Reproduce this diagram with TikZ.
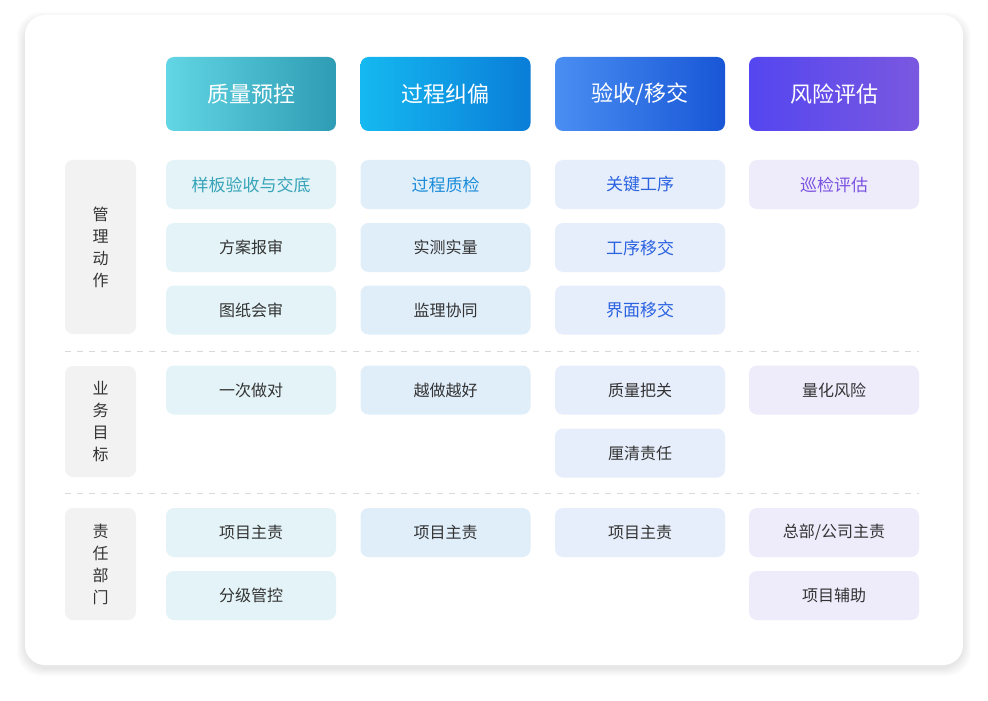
\documentclass[tikz,border=0pt]{standalone}
\usepackage{fontspec}
\setmainfont{Noto Sans CJK SC}
\usetikzlibrary{positioning}
\definecolor{hdA1}{HTML}{62D6E4}\definecolor{hdA2}{HTML}{2E9CB4}
\definecolor{hdB1}{HTML}{15B9F0}\definecolor{hdB2}{HTML}{0A7DD8}
\definecolor{hdC1}{HTML}{4A8EF2}\definecolor{hdC2}{HTML}{1856D6}
\definecolor{hdD1}{HTML}{5446F0}\definecolor{hdD2}{HTML}{7A58E0}
\definecolor{bgA}{HTML}{E3F3F7}\definecolor{bgB}{HTML}{E0EEFA}
\definecolor{bgC}{HTML}{E6EDFB}\definecolor{bgD}{HTML}{EEEBFB}
\definecolor{txA}{HTML}{36A3B8}\definecolor{txB}{HTML}{1A8CD8}
\definecolor{txC}{HTML}{2A62E0}\definecolor{txD}{HTML}{7A52E0}
\definecolor{txN}{HTML}{333333}\definecolor{lblbg}{HTML}{F2F2F2}
\tikzset{
  head/.style={rounded corners=4pt, minimum width=85pt, minimum height=37pt,
    text=white, font=\fontsize{11}{13}\selectfont, inner sep=0pt},
  cell/.style={rounded corners=4pt, minimum width=85pt, minimum height=24.5pt,
    text=txN, font=\fontsize{8}{10}\selectfont, inner sep=0pt},
  key/.style={cell, font=\fontsize{8.5}{10}\selectfont},
  lbl/.style={rounded corners=4pt, fill=lblbg, minimum width=35.5pt, text=txN,
    align=center, font=\fontsize{8}{11}\selectfont, inner sep=0pt},
  sep/.style={dashed, draw=gray!30, line width=0.5pt}
}
\begin{document}
\begin{tikzpicture}[x=0.5pt, y=-0.5pt]
\useasboundingbox (0,0) rectangle (988,700);
% card with soft shadow
\foreach \i in {1,...,8}
  \fill[black, opacity=0.012, rounded corners=12pt] (25-\i,17-\i+3) rectangle (963+\i,665+\i+3);
\fill[white, rounded corners=10pt] (25,15) rectangle (963,665);
% headers
\node[head, left color=hdA1, right color=hdA2] (hA) at (251,94) {质量预控};
\node[head, left color=hdB1, right color=hdB2] (hB) at (445.5,94) {过程纠偏};
\node[head, left color=hdC1, right color=hdC2] (hC) at (640,94) {验收/移交};
\node[head, left color=hdD1, right color=hdD2] (hD) at (834,94) {风险评估};
% row labels
\node[lbl, minimum height=87pt] (lM) at (100.5,247) {管\\理\\动\\作};
\node[lbl, minimum height=55.5pt] (lG) at (100.5,421.5) {业\\务\\目\\标};
\node[lbl, minimum height=56pt] (lR) at (100.5,564) {责\\任\\部\\门};
% management actions
\node[key, fill=bgA, text=txA] (mA1) at (251,184.5) {样板验收与交底};
\node[cell, fill=bgA] (mA2) at (251,247.5) {方案报审};
\node[cell, fill=bgA] (mA3) at (251,310) {图纸会审};
\node[key, fill=bgB, text=txB] (mB1) at (445.5,184.5) {过程质检};
\node[cell, fill=bgB] (mB2) at (445.5,247.5) {实测实量};
\node[cell, fill=bgB] (mB3) at (445.5,310) {监理协同};
\node[key, fill=bgC, text=txC] (mC1) at (640,184.5) {关键工序};
\node[key, fill=bgC, text=txC] (mC2) at (640,247.5) {工序移交};
\node[key, fill=bgC, text=txC] (mC3) at (640,310) {界面移交};
\node[key, fill=bgD, text=txD] (mD1) at (834,184.5) {巡检评估};
\draw[sep] (65,351) -- (919,351);
% business goals
\node[cell, fill=bgA] (gA1) at (251,390) {一次做对};
\node[cell, fill=bgB] (gB1) at (445.5,390) {越做越好};
\node[cell, fill=bgC] (gC1) at (640,390) {质量把关};
\node[cell, fill=bgC] (gC2) at (640,453) {厘清责任};
\node[cell, fill=bgD] (gD1) at (834,390) {量化风险};
\draw[sep] (65,493) -- (919,493);
% responsibility
\node[cell, fill=bgA] (rA1) at (251,532.5) {项目主责};
\node[cell, fill=bgA] (rA2) at (251,595.5) {分级管控};
\node[cell, fill=bgB] (rB1) at (445.5,532.5) {项目主责};
\node[cell, fill=bgC] (rC1) at (640,532.5) {项目主责};
\node[cell, fill=bgD] (rD1) at (834,532.5) {总部/公司主责};
\node[cell, fill=bgD] (rD2) at (834,595.5) {项目辅助};
\end{tikzpicture}
\end{document}
